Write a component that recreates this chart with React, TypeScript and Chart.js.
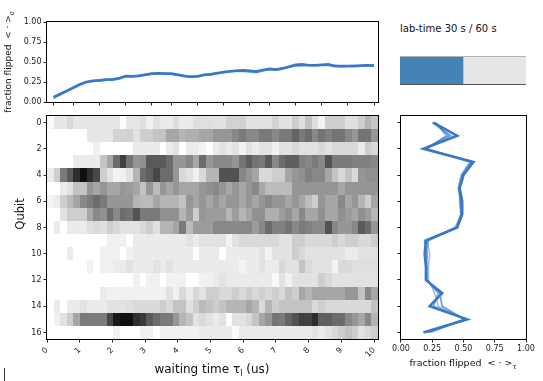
import React, { useEffect, useRef } from 'react';
import { Chart, registerables } from 'chart.js';
Chart.register(...registerables);

// ---------- DATA ----------
const waitTimes = [0.2, 0.4, 0.6, 0.8, 1.0, 1.2, 1.4, 1.6, 1.8, 2.0, 2.2, 2.4, 2.6, 2.8, 3.0, 3.2, 3.4, 3.6, 3.8, 4.0, 4.2, 4.4, 4.6, 4.8, 5.0, 5.2, 5.4, 5.6, 5.8, 6.0, 6.2, 6.4, 6.6, 6.8, 7.0, 7.2, 7.4, 7.6, 7.8, 8.0, 8.2, 8.4, 8.6, 8.8, 9.0, 9.2, 9.4, 9.6, 9.8, 10.0];
const topTickValues = [0.2, 0.8, 1.6, 2.4, 3.2, 3.8, 4.6, 5.4, 6.2, 6.8, 7.6, 8.4, 9.2, 10.0];
const timeTickValues = [0, 1, 2, 3, 4, 5, 6, 7, 8, 9, 10];
const qubitTickValues = [0, 2, 4, 6, 8, 10, 12, 14, 16];
const fractionTickValues = [0, 0.25, 0.5, 0.75, 1.0];
const heatTimeRange = [0, 10.12];
const qubitRange = [-0.5, 16.5];
const qubits = [0, 1, 2, 3, 4, 5, 6, 7, 8, 9, 10, 11, 12, 13, 14, 15, 16];

const flippedVsTimeA = [0.06, 0.10, 0.14, 0.18, 0.22, 0.25, 0.265, 0.27, 0.28, 0.28, 0.295, 0.325, 0.32, 0.325, 0.34, 0.355, 0.36, 0.355, 0.355, 0.34, 0.325, 0.315, 0.32, 0.34, 0.345, 0.36, 0.375, 0.385, 0.39, 0.395, 0.39, 0.38, 0.40, 0.415, 0.405, 0.42, 0.44, 0.465, 0.47, 0.46, 0.46, 0.465, 0.47, 0.45, 0.45, 0.45, 0.45, 0.455, 0.46, 0.455];
const flippedVsTimeB = [0.05, 0.09, 0.13, 0.17, 0.21, 0.245, 0.26, 0.27, 0.275, 0.285, 0.30, 0.32, 0.315, 0.33, 0.345, 0.35, 0.355, 0.35, 0.35, 0.335, 0.32, 0.31, 0.325, 0.335, 0.35, 0.365, 0.37, 0.38, 0.385, 0.385, 0.375, 0.37, 0.39, 0.405, 0.40, 0.415, 0.445, 0.455, 0.46, 0.455, 0.455, 0.46, 0.46, 0.445, 0.44, 0.445, 0.445, 0.45, 0.455, 0.45];
const flippedVsTimeC = [0.055, 0.095, 0.135, 0.175, 0.215, 0.25, 0.26, 0.265, 0.275, 0.28, 0.29, 0.315, 0.325, 0.33, 0.335, 0.35, 0.35, 0.36, 0.35, 0.345, 0.33, 0.32, 0.32, 0.335, 0.34, 0.355, 0.37, 0.38, 0.395, 0.39, 0.385, 0.385, 0.395, 0.41, 0.40, 0.425, 0.435, 0.45, 0.455, 0.465, 0.455, 0.46, 0.465, 0.455, 0.445, 0.45, 0.455, 0.45, 0.46, 0.46];

const flippedVsQubitA = [0.26, 0.45, 0.18, 0.58, 0.50, 0.47, 0.49, 0.49, 0.45, 0.20, 0.19, 0.20, 0.20, 0.33, 0.23, 0.53, 0.18];
const flippedVsQubitB = [0.25, 0.40, 0.20, 0.56, 0.49, 0.46, 0.48, 0.48, 0.44, 0.22, 0.20, 0.21, 0.21, 0.30, 0.26, 0.52, 0.20];
const flippedVsQubitC = [0.28, 0.36, 0.21, 0.55, 0.48, 0.46, 0.48, 0.49, 0.43, 0.21, 0.23, 0.22, 0.22, 0.27, 0.30, 0.50, 0.24];
const flippedVsQubitD = [0.27, 0.38, 0.19, 0.57, 0.49, 0.47, 0.47, 0.48, 0.45, 0.19, 0.21, 0.20, 0.20, 0.31, 0.33, 0.51, 0.22];

const qubitRows = [
  [0.05,0.18,0.18,0.25,0.18,0.18,0.18,0.18,0.18,0.18, 0.18,0.02,0.18,0.18,0.22,0.12,0.2,0.15,0.15,0.22, 0.15,0.15,0.22,0.22,0.22,0.2,0.2,0.28,0.28,0.28, 0.2,0.2,0.2,0.2,0.28,0.2,0.2,0.3,0.22,0.35, 0.22,0.1,0.3,0.3,0.3,0.22,0.22,0.3,0.4,0.33],
  [0,0,0,0,0,0,0.18,0.18,0.18,0.18, 0.28,0.28,0.28,0.2,0.3,0.3,0.35,0.35,0.45,0.45, 0.4,0.42,0.42,0.45,0.45,0.5,0.5,0.5,0.55,0.6, 0.55,0.55,0.6,0.6,0.55,0.6,0.6,0.68,0.6,0.65, 0.55,0.62,0.58,0.62,0.62,0.55,0.5,0.62,0.62,0.5],
  [0,0,0,0,0,0,0,0.12,0,0, 0,0,0,0.15,0.15,0.15,0.15,0,0.15,0.2, 0,0.15,0.15,0.1,0,0.15,0.2,0.15,0.2,0.1, 0.2,0.15,0.2,0.2,0.12,0.2,0.2,0.25,0.2,0.2, 0.2,0.25,0.2,0.25,0.25,0.25,0.25,0.15,0.3,0.25],
  [0,0,0,0,0.15,0.15,0.15,0.15,0.35,0.45, 0.65,0.8,0.62,0.5,0.52,0.72,0.72,0.72,0.65,0.5, 0.5,0.55,0.45,0.65,0.5,0.55,0.55,0.55,0.5,0.62, 0.7,0.62,0.6,0.72,0.55,0.65,0.7,0.7,0.58,0.55, 0.6,0.55,0.75,0.6,0.6,0.6,0.58,0.58,0.58,0.55],
  [0.15,0.3,0.6,0.72,0.85,0.95,0.85,0.78,0.3,0.2, 0.1,0.12,0.2,0.4,0.65,0.7,0.78,0.65,0.65,0.5, 0.25,0.2,0.12,0.25,0.4,0.4,0.75,0.75,0.75,0.55, 0.5,0.45,0.25,0.25,0.3,0.3,0.45,0.5,0.52,0.58, 0.55,0.55,0.45,0.35,0.25,0.35,0.25,0.5,0.52,0.52],
  [0,0,0.15,0.2,0.35,0.35,0.5,0.45,0.5,0.45, 0.45,0.5,0.48,0.45,0.35,0.5,0.38,0.5,0.45,0.5, 0.45,0.45,0.45,0.5,0.52,0.55,0.5,0.45,0.5,0.45, 0.5,0.55,0.45,0.38,0.38,0.38,0.38,0.5,0.5,0.5, 0.5,0.5,0.5,0.5,0.45,0.5,0.5,0.5,0.5,0.5],
  [0.1,0.15,0.3,0.38,0.45,0.55,0.6,0.65,0.6,0.5, 0.5,0.5,0.5,0.4,0.38,0.38,0.45,0.4,0.4,0.4, 0.35,0.5,0.45,0.5,0.45,0.5,0.45,0.5,0.5,0.45, 0.5,0.45,0.5,0.55,0.5,0.5,0.45,0.5,0.45,0.38, 0.3,0.5,0.45,0.45,0.55,0.45,0.5,0.4,0.3,0.45],
  [0,0,0.2,0.3,0.3,0.3,0.45,0.55,0.52,0.65, 0.55,0.65,0.62,0.75,0.6,0.6,0.6,0.52,0.52,0.52, 0.4,0.48,0.3,0.5,0.48,0.48,0.48,0.4,0.48,0.4, 0.45,0.52,0.52,0.42,0.42,0.48,0.52,0.45,0.55,0.45, 0.45,0.52,0.45,0.45,0.52,0.48,0.45,0.52,0.48,0.4],
  [0,0.15,0,0.15,0.15,0.15,0.22,0.25,0.22,0.3, 0.25,0.2,0.2,0.2,0.25,0.3,0.22,0.4,0.4,0.45, 0.6,0.38,0.48,0.48,0.48,0.55,0.55,0.55,0.55,0.55, 0.55,0.48,0.55,0.65,0.58,0.58,0.62,0.55,0.6,0.58, 0.55,0.55,0.75,0.55,0.5,0.5,0.55,0.72,0.65,0.5],
  [0,0,0,0,0,0,0,0,0,0.12, 0.12,0.12,0,0.15,0.15,0.15,0.15,0.15,0.15,0.15, 0.15,0.2,0.15,0.2,0.2,0.2,0.2,0.1,0.2,0.25, 0.25,0.25,0.25,0.25,0.25,0.2,0.2,0.3,0.3,0.25, 0.25,0.25,0.25,0.3,0.25,0.3,0.3,0.25,0.25,0.3],
  [0,0,0,0.15,0,0,0,0,0.12,0.12, 0.12,0,0.12,0.15,0.15,0.15,0.15,0.15,0.15,0.15, 0.15,0.15,0,0.15,0.15,0.15,0,0.15,0.15,0.15, 0.15,0.15,0.2,0.1,0.2,0.2,0.2,0.3,0.25,0.2, 0.2,0.2,0.2,0.2,0.2,0.15,0.15,0.2,0.2,0.2],
  [0,0,0,0,0,0,0.12,0,0.12,0.12, 0.15,0.15,0.2,0.15,0.15,0.15,0.2,0.15,0.2,0.15, 0.15,0.15,0.15,0.15,0.15,0.15,0.15,0.15,0.15,0.1, 0.15,0.15,0.2,0.15,0.15,0.25,0.2,0.2,0.35,0.25, 0.2,0.2,0.2,0.1,0.25,0.25,0.22,0.22,0.22,0.22],
  [0,0,0,0,0,0,0,0,0,0, 0,0,0,0.12,0,0.12,0.12,0,0.12,0.12, 0.12,0,0,0.12,0.12,0.15,0.2,0.15,0.15,0.15, 0.15,0.15,0.15,0.15,0.05,0.2,0.12,0.2,0.2,0.2, 0.2,0.3,0.25,0.2,0.2,0.2,0.2,0.2,0.2,0.2],
  [0,0,0,0,0,0,0,0,0.15,0.12, 0.12,0.12,0.12,0.12,0.12,0.12,0.12,0.12,0.2,0.12, 0.25,0.15,0.25,0.2,0.3,0.3,0.25,0.25,0.3,0.25, 0.3,0.25,0.3,0.25,0.3,0.25,0.35,0.3,0.45,0.4, 0.45,0.45,0.45,0.45,0.45,0.5,0.5,0.35,0.55,0.45],
  [0,0.15,0,0.15,0.15,0.2,0.15,0.15,0.15,0.2, 0.2,0.2,0.22,0.25,0.25,0.25,0.25,0.3,0.25,0.35, 0.35,0.2,0.3,0.38,0.35,0.3,0.35,0.4,0.4,0.4, 0.45,0.4,0.25,0.4,0.3,0.35,0.35,0.35,0.35,0.35, 0.25,0.3,0.25,0.25,0.25,0.25,0.25,0.25,0.25,0.35],
  [0,0.12,0.2,0.3,0.45,0.6,0.6,0.6,0.6,0.78, 0.92,0.95,0.95,0.85,0.82,0.72,0.65,0.6,0.6,0.5, 0.4,0.35,0.2,0.25,0.2,0.15,0.2,0.02,0.2,0.2, 0.25,0.35,0.45,0.5,0.62,0.6,0.68,0.75,0.8,0.8, 0.85,0.7,0.7,0.65,0.65,0.55,0.5,0.45,0.55,0.4],
  [0,0,0,0,0,0,0,0,0,0, 0.12,0,0,0,0.12,0.12,0,0.12,0.12,0.12, 0.12,0.12,0.12,0.15,0.15,0.15,0.15,0.15,0.05,0.15, 0.15,0.15,0.15,0.15,0.15,0.15,0.15,0.15,0.15,0.15, 0.2,0.15,0.2,0.25,0.3,0.35,0.3,0.2,0.25,0.3],
];

const labTime = 30;
const labTimeTotal = 60;

// ---------- STYLE HELPERS ----------
const FONT = '"DejaVu Sans", "Liberation Sans", sans-serif';
const greysStops = [[255,255,255],[240,240,240],[217,217,217],[189,189,189],[150,150,150],[115,115,115],[82,82,82],[37,37,37],[0,0,0]];
function greys(v: number) {
  const t = Math.max(0, Math.min(1, v)) * 8;
  const i = Math.min(7, Math.floor(t));
  const f = t - i;
  const a = greysStops[i], b = greysStops[i + 1];
  const c = a.map((x, k) => Math.round(x + (b[k] - x) * f));
  return `rgb(${c[0]},${c[1]},${c[2]})`;
}

type Part = { t: string; sub?: boolean };
type TitleSpec = { parts: Part[]; x: number; y: number; size: number; rotate?: boolean };

const titlesPlugin = {
  id: 'customTitles',
  afterDraw(chart: any) {
    const specs: TitleSpec[] = chart.options.plugins.customTitles?.items || [];
    const ctx = chart.ctx;
    specs.forEach((s) => {
      ctx.save();
      ctx.translate(s.x, s.y);
      if (s.rotate) ctx.rotate(-Math.PI / 2);
      const fm = `${s.size}px ${FONT}`;
      const fs = `${(s.size * 0.7).toFixed(2)}px ${FONT}`;
      let total = 0;
      const widths = s.parts.map((p) => {
        ctx.font = p.sub ? fs : fm;
        const w = ctx.measureText(p.t).width;
        total += w;
        return w;
      });
      let x = -total / 2;
      ctx.fillStyle = '#111';
      ctx.textBaseline = 'middle';
      ctx.textAlign = 'left';
      s.parts.forEach((p, i) => {
        ctx.font = p.sub ? fs : fm;
        ctx.fillText(p.t, x, p.sub ? s.size * 0.32 : 0);
        x += widths[i];
      });
      ctx.restore();
    });
  },
};

const framePlugin = {
  id: 'frame',
  afterDraw(chart: any) {
    if (chart.options.plugins.frame?.off) return;
    const { ctx, chartArea: a } = chart;
    ctx.save();
    ctx.strokeStyle = '#000';
    ctx.lineWidth = 1;
    const l = Math.round(a.left) - 0.5, t = Math.round(a.top) - 0.5;
    const r = Math.round(a.right) + 0.5, b = Math.round(a.bottom) + 0.5;
    ctx.strokeRect(l, t, r - l, b - t);
    ctx.restore();
  },
};

const heatPlugin = {
  id: 'heat',
  beforeDatasetsDraw(chart: any) {
    if (!chart.options.plugins.heat?.on) return;
    const { ctx } = chart;
    const xs = chart.scales.x, ys = chart.scales.y;
    const n = qubitRows[0].length;
    const w = (heatTimeRange[1] - heatTimeRange[0]) / n;
    ctx.save();
    qubitRows.forEach((row, r) => {
      const ya = Math.round(ys.getPixelForValue(r - 0.5));
      const yb = Math.round(ys.getPixelForValue(r + 0.5));
      row.forEach((v, c) => {
        const xa = Math.round(xs.getPixelForValue(heatTimeRange[0] + c * w));
        const xb = Math.round(xs.getPixelForValue(heatTimeRange[0] + (c + 1) * w));
        ctx.fillStyle = greys(v);
        ctx.fillRect(xa, Math.min(ya, yb), xb - xa, Math.abs(yb - ya));
      });
    });
    ctx.restore();
  },
};

const barBgPlugin = {
  id: 'barBg',
  beforeDatasetsDraw(chart: any) {
    if (!chart.options.plugins.barBg?.on) return;
    const { ctx, chartArea: a } = chart;
    ctx.save();
    ctx.fillStyle = '#e6e6e6';
    ctx.fillRect(a.left, a.top, a.right - a.left, a.bottom - a.top);
    ctx.restore();
  },
  afterDatasetsDraw(chart: any) {
    if (!chart.options.plugins.barBg?.on) return;
    const { ctx, chartArea: a } = chart;
    ctx.save();
    ctx.lineWidth = 1;
    ctx.strokeStyle = '#b4b4b4';
    ctx.beginPath(); ctx.moveTo(a.left, Math.round(a.top) - 0.5); ctx.lineTo(a.right, Math.round(a.top) - 0.5); ctx.stroke();
    ctx.strokeStyle = '#555';
    ctx.beginPath(); ctx.moveTo(a.left, Math.round(a.bottom) + 0.5); ctx.lineTo(a.right, Math.round(a.bottom) + 0.5); ctx.stroke();
    ctx.restore();
  },
};

const tickFont = { family: FONT, size: 8 };
const tickColor = '#222';

function axisGrid() {
  return { display: true, drawOnChartArea: false, drawTicks: true, tickLength: 3.5, color: '#222', tickWidth: 1, lineWidth: 1 };
}
const setTicks = (vals: number[]) => (scale: any) => { scale.ticks = vals.map((v) => ({ value: v })); };

function ChartBox({ left, top, width, height, make }: { left: number; top: number; width: number; height: number; make: () => any }) {
  const ref = useRef<HTMLCanvasElement>(null);
  useEffect(() => {
    const chart = new Chart(ref.current as HTMLCanvasElement, make());
    return () => chart.destroy();
  }, []);
  return (
    <canvas ref={ref} width={width} height={height}
      style={{ position: 'absolute', left, top, width, height, display: 'block' }} />
  );
}

const plugins = [titlesPlugin, framePlugin, heatPlugin, barBgPlugin];

function topConfig() {
  const mk = (vals: number[], width: number, alpha: number) => ({
    data: waitTimes.map((t, i) => ({ x: t, y: vals[i] })),
    showLine: true, pointRadius: 0, borderWidth: width,
    borderColor: `rgba(58,120,200,${alpha})`, backgroundColor: 'transparent', tension: 0,
  });
  return {
    type: 'scatter',
    data: { datasets: [mk(flippedVsTimeB, 2, 0.55), mk(flippedVsTimeC, 2, 0.55), mk(flippedVsTimeA, 2.6, 1)] },
    options: {
      animation: false, responsive: false, events: [],
      layout: { padding: { top: 22, right: 12, left: 0, bottom: 0 } },
      plugins: {
        legend: { display: false }, tooltip: { enabled: false },
        customTitles: { items: [{ parts: [{ t: 'fraction flipped  < · >' }, { t: 'σ', sub: true }], x: 9, y: 62, size: 9, rotate: true }] },
      },
      scales: {
        x: {
          type: 'linear', min: heatTimeRange[0], max: heatTimeRange[1],
          afterBuildTicks: setTicks(topTickValues),
          afterFit: (s: any) => { s.height = 16; },
          ticks: { callback: () => '', font: tickFont, autoSkip: false },
          grid: axisGrid(), border: { display: false },
        },
        y: {
          min: 0, max: 1,
          afterBuildTicks: setTicks(fractionTickValues),
          afterFit: (s: any) => { s.width = 47; },
          ticks: { callback: (v: number) => v.toFixed(2), font: tickFont, color: tickColor, padding: 2 },
          grid: axisGrid(), border: { display: false },
        },
      },
    },
    plugins,
  };
}

function heatConfig() {
  return {
    type: 'scatter',
    data: { datasets: [{ data: [] }] },
    options: {
      animation: false, responsive: false, events: [],
      layout: { padding: { top: 12, right: 12, left: 0, bottom: 0 } },
      plugins: {
        legend: { display: false }, tooltip: { enabled: false }, heat: { on: true },
        customTitles: {
          items: [
            { parts: [{ t: 'Qubit' }], x: 21, y: 110, size: 11.5, rotate: true },
            { parts: [{ t: 'waiting time τ' }, { t: 'l', sub: true }, { t: ' (us)' }], x: 212, y: 266, size: 12 },
          ],
        },
      },
      scales: {
        x: {
          type: 'linear', min: heatTimeRange[0], max: heatTimeRange[1],
          afterBuildTicks: setTicks(timeTickValues),
          afterFit: (s: any) => { s.height = 42; },
          ticks: { callback: (v: number) => String(v), font: tickFont, color: tickColor, minRotation: 45, maxRotation: 45, autoSkip: false, padding: 3 },
          grid: axisGrid(), border: { display: false },
        },
        y: {
          type: 'linear', min: qubitRange[0], max: qubitRange[1], reverse: true,
          afterBuildTicks: setTicks(qubitTickValues),
          afterFit: (s: any) => { s.width = 47; },
          ticks: { callback: (v: number) => String(v), font: tickFont, color: tickColor, padding: 2 },
          grid: axisGrid(), border: { display: false },
        },
      },
    },
    plugins,
  };
}

function rightConfig() {
  const mk = (vals: number[], width: number, alpha: number) => ({
    data: qubits.map((q, i) => ({ x: vals[i], y: q })),
    showLine: true, pointRadius: 0, borderWidth: width,
    borderColor: `rgba(58,120,200,${alpha})`, backgroundColor: 'transparent', tension: 0,
  });
  return {
    type: 'scatter',
    data: { datasets: [mk(flippedVsQubitC, 1.5, 0.5), mk(flippedVsQubitB, 1.8, 0.6), mk(flippedVsQubitD, 1.8, 0.7), mk(flippedVsQubitA, 2.6, 1)] },
    options: {
      animation: false, responsive: false, events: [],
      layout: { padding: { top: 12, right: 17, left: 0, bottom: 0 } },
      plugins: {
        legend: { display: false }, tooltip: { enabled: false },
        customTitles: { items: [{ parts: [{ t: 'fraction flipped  < · >' }, { t: 'τ', sub: true }], x: 73, y: 260, size: 9.5 }] },
      },
      scales: {
        x: {
          type: 'linear', min: 0, max: 1,
          afterBuildTicks: setTicks(fractionTickValues),
          afterFit: (s: any) => { s.height = 42; },
          ticks: { callback: (v: number) => v.toFixed(2), font: tickFont, color: tickColor, maxRotation: 0, minRotation: 0, autoSkip: false, padding: 2 },
          grid: axisGrid(), border: { display: false },
        },
        y: {
          type: 'linear', min: qubitRange[0], max: qubitRange[1], reverse: true,
          afterBuildTicks: setTicks(qubitTickValues),
          afterFit: (s: any) => { s.width = 10; },
          ticks: { callback: () => '', font: tickFont },
          grid: axisGrid(), border: { display: false },
        },
      },
    },
    plugins,
  };
}

function progressConfig() {
  return {
    type: 'bar',
    data: { labels: ['lab-time'], datasets: [{ data: [labTime], backgroundColor: '#4682b4', borderWidth: 0, barPercentage: 1, categoryPercentage: 1 }] },
    options: {
      indexAxis: 'y', animation: false, responsive: false, events: [],
      layout: { padding: { top: 7, right: 17, left: 10, bottom: 6 } },
      plugins: { legend: { display: false }, tooltip: { enabled: false }, frame: { off: true }, barBg: { on: true } },
      scales: {
        x: { display: false, min: 0, max: labTimeTotal },
        y: { display: false },
      },
    },
    plugins,
  };
}

export default function App() {
  return (
    <div style={{ position: 'absolute', left: 0, top: 0, width: 543, height: 381, background: '#fff', overflow: 'hidden' }}>
      <ChartBox left={0} top={104} width={390} height={277} make={heatConfig} />
      <ChartBox left={0} top={0} width={390} height={118} make={topConfig} />
      <ChartBox left={390} top={104} width={153} height={277} make={rightConfig} />
      <ChartBox left={390} top={50} width={153} height={40} make={progressConfig} />
      <div style={{ position: 'absolute', left: 400, top: 23, fontFamily: FONT, fontSize: 10, lineHeight: '12px', color: '#111', whiteSpace: 'nowrap' }}>
        {`lab-time ${labTime} s / ${labTimeTotal} s`}
      </div>
      <div style={{ position: 'absolute', left: 4, top: 368, width: 1, height: 13, background: '#333' }} />
    </div>
  );
}
